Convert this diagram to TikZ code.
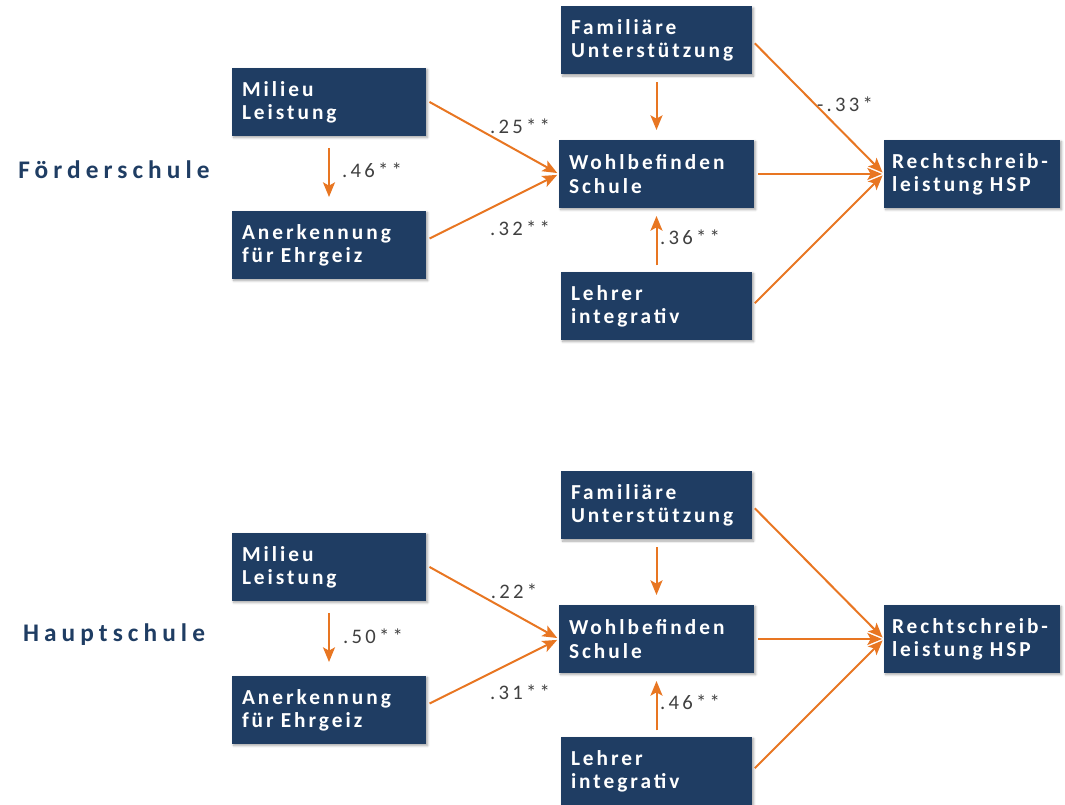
\documentclass[tikz,border=0pt]{standalone}
\usepackage{fontspec}
\newfontfamily\boxfont{Carlito}[LetterSpace=14]
\newfontfamily\headfont{Carlito}[LetterSpace=20]
\newfontfamily\labfont{Carlito}[LetterSpace=16]
\usetikzlibrary{arrows.meta,shadows.blur}
\definecolor{navy}{RGB}{31,61,99}
\definecolor{arrowor}{RGB}{232,118,34}
\definecolor{labgray}{RGB}{64,64,64}
\tikzset{
  box/.style={fill=navy, text=white, align=left, inner xsep=7.5pt, inner ysep=0pt,
    minimum height=51pt, outer sep=0pt,
    font=\boxfont\bfseries\fontsize{16}{17.5}\selectfont,
    blur shadow={shadow blur steps=6, shadow xshift=1.2pt, shadow yshift=-1.2pt, shadow opacity=35}},
  wbox/.style={box, text width=130.5pt},
  mbox/.style={box, text width=128.25pt},
  lbox/.style={box, text width=131.25pt},
  rbox/.style={box, inner xsep=6pt, text width=120pt},
  head/.style={text=navy, font=\headfont\bfseries\fontsize{19}{22}\selectfont, inner sep=0pt},
  lab/.style={text=labgray, font=\labfont\fontsize{15.5}{17}\selectfont, inner sep=0pt},
  arr/.style={draw=arrowor, line width=1.5pt, -{Stealth[length=11pt,width=9pt,inset=2.5pt]}}
}
\begin{document}
\begin{tikzpicture}[x=0.75pt,y=-0.75pt]
\useasboundingbox (0,0) rectangle (1065,805);
\foreach \o/\sfx/\hd in {0/1/Förderschule, 465/2/Hauptschule}{
  \node[head] (head\sfx) at (114,170+\o) {\hd};
  \node[wbox] (mil\sfx) at (329,102+\o) {Milieu\\Leistung};
  \node[wbox] (ane\sfx) at (329,245+\o) {Anerkennung\\für Ehrgeiz};
  \node[mbox] (fam\sfx) at (656.5,40.5+\o) {Familiäre\\Unterstützung};
  \node[lbox] (wohl\sfx) at (656.5,174+\o) {Wohlbefinden\\Schule};
  \node[mbox] (leh\sfx) at (656.5,306+\o) {Lehrer\\integrativ};
  \node[rbox] (rec\sfx) at (972,174+\o) {\mbox{Rechtschreib-}\\leistung HSP};
  \draw[arr, shorten <=3pt, shorten >=1.5pt] ([yshift=1.5pt]mil\sfx.east) -- (wohl\sfx.west);
  \draw[arr, shorten <=3pt, shorten >=1.5pt] ([yshift=3.5pt]ane\sfx.east) -- (wohl\sfx.west);
  \draw[arr, shorten <=9pt, shorten >=10.5pt] (mil\sfx.south) -- (ane\sfx.north);
  \draw[arr, shorten <=6pt, shorten >=7.5pt] (fam\sfx.south) -- (wohl\sfx.north);
  \draw[arr, shorten <=5pt, shorten >=6pt] (leh\sfx.north) -- (wohl\sfx.south);
  \draw[arr, shorten <=3pt, shorten >=1.5pt] (fam\sfx.east) -- (rec\sfx.west);
  \draw[arr, shorten <=3pt, shorten >=1.5pt] (wohl\sfx.east) -- (rec\sfx.west);
  \draw[arr, shorten <=3pt, shorten >=1.5pt] (leh\sfx.east) -- (rec\sfx.west);
}
\node[lab] (l1a) at (520,126) {.25**};
\node[lab] (l1b) at (520,228) {.32**};
\node[lab] (l1c) at (372,170) {.46**};
\node[lab] (l1d) at (690,237) {.36**};
\node[lab] (l1e) at (845,104) {-.33*};
\node[lab] (l2a) at (514,591) {.22*};
\node[lab] (l2b) at (520,692) {.31**};
\node[lab] (l2c) at (373,636) {.50**};
\node[lab] (l2d) at (690,702) {.46**};
\end{tikzpicture}
\end{document}
